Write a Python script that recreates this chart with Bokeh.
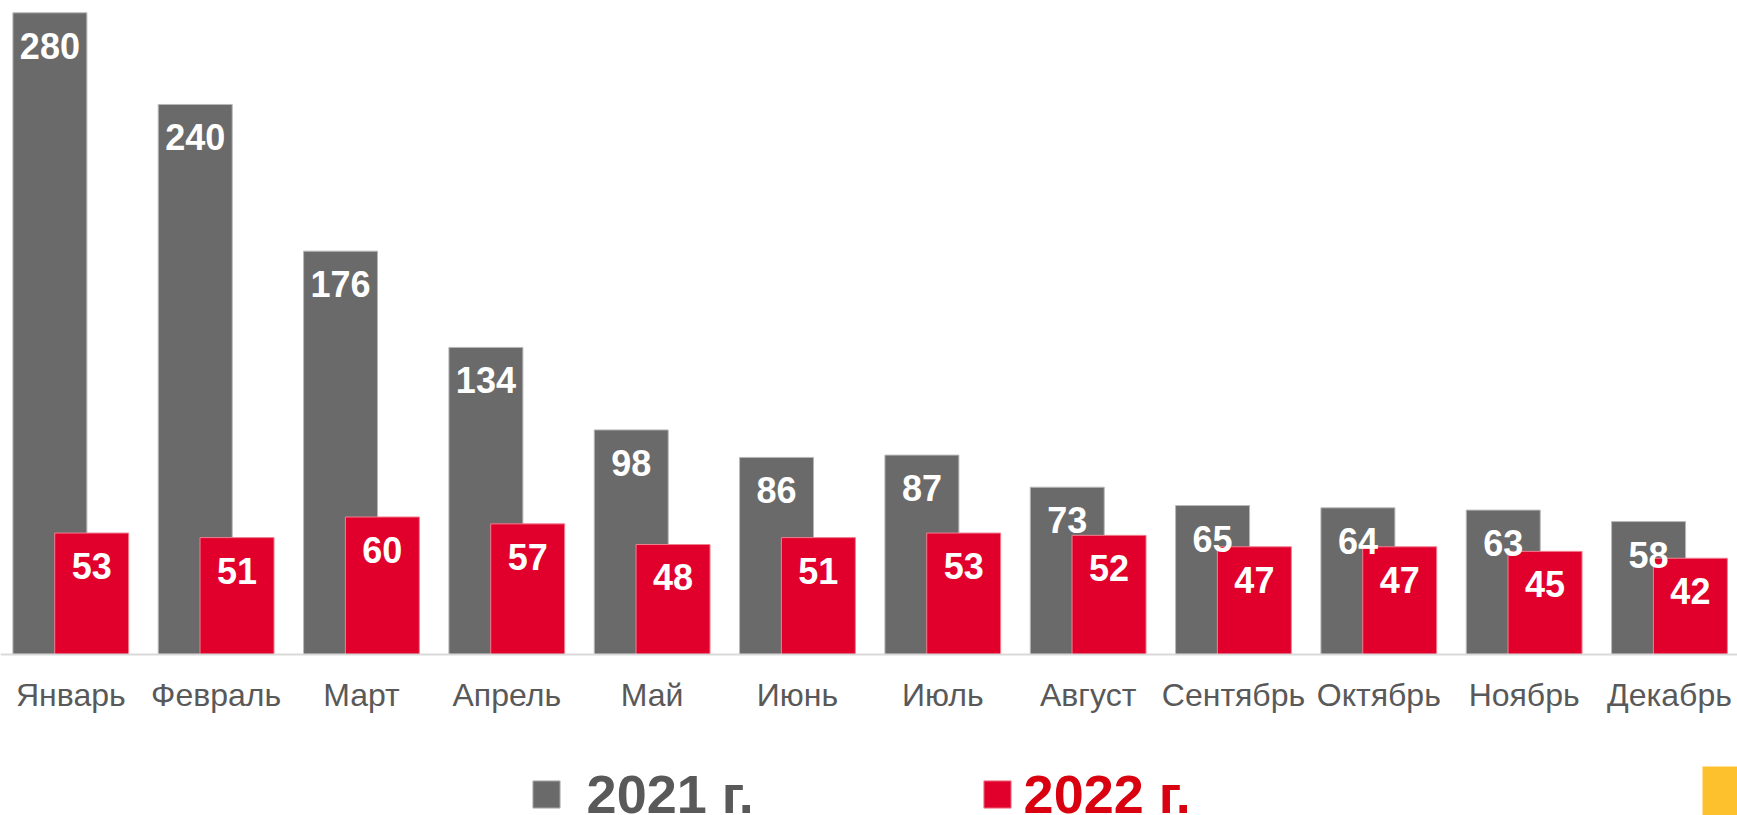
from bokeh.plotting import figure
from bokeh.models import ColumnDataSource, Range1d, FixedTicker, Legend, LegendItem, BoxAnnotation
from bokeh.transform import dodge
from bokeh.core.properties import value
from bokeh.embed import file_html
from bokeh.resources import INLINE

months = ["Январь", "Февраль", "Март", "Апрель", "Май", "Июнь",
          "Июль", "Август", "Сентябрь", "Октябрь", "Ноябрь", "Декабрь"]
v2021 = [280, 240, 176, 134, 98, 86, 87, 73, 65, 64, 63, 58]
v2022 = [53, 51, 60, 57, 48, 51, 53, 52, 47, 47, 45, 42]
series_names = ["2021 г.", "2022 г."]

GRAY = "#6a6a6a"
RED = "#e1002c"

idx = list(range(len(months)))
src = ColumnDataSource(dict(idx=idx, v2021=v2021, v2022=v2022,
                            t2021=[str(v) for v in v2021],
                            t2022=[str(v) for v in v2022]))

p = figure(width=1737, height=815, output_backend="svg", toolbar_location=None,
           x_range=Range1d(-0.4837, 11.468), y_range=Range1d(-70.25, 285.37),
           min_border_left=0, min_border_right=0, min_border_top=0, min_border_bottom=0)
p.outline_line_color = None
p.background_fill_color = "white"
p.border_fill_color = "white"
p.xgrid.visible = False
p.ygrid.visible = False
p.yaxis.visible = False

off = 0.1438
w = 0.509
r1 = p.vbar(x=dodge("idx", -off, range=p.x_range), top="v2021", width=w, bottom=0,
            source=src, fill_color=GRAY, line_color="#b8b8b8", line_width=1)
r2 = p.vbar(x=dodge("idx", off, range=p.x_range), top="v2022", width=w, bottom=0,
            source=src, fill_color=RED, line_color="#f08090", line_width=1)

for col, tcol, o in [("v2021", "t2021", -off), ("v2022", "t2022", off)]:
    p.text(x=dodge("idx", o, range=p.x_range), y=col, text=tcol, source=src,
           text_color="white", text_font=value("Liberation Sans"), text_font_style="bold",
           text_font_size="36px", text_align="center", text_baseline="alphabetic",
           y_offset=33)

ax = p.xaxis[0]
ax.fixed_location = 0
ax.ticker = FixedTicker(ticks=idx)
ax.major_label_overrides = {i: m for i, m in enumerate(months)}
ax.major_tick_line_color = None
ax.minor_tick_line_color = None
ax.major_tick_out = 0
ax.major_tick_in = 0
ax.axis_line_color = "#d9d9d9"
ax.axis_line_width = 2
ax.major_label_text_font = "Liberation Sans"
ax.major_label_text_font_size = "32px"
ax.major_label_text_color = "#595959"
ax.major_label_standoff = 22

leg1 = Legend(items=[LegendItem(label=series_names[0], renderers=[r1])],
              location=(528.6, -10), padding=0, margin=0, border_line_color=None,
              background_fill_alpha=0, glyph_width=34, glyph_height=34,
              label_standoff=24, label_text_font="Liberation Sans",
              label_text_font_style="bold", label_text_font_size="54px",
              label_text_color="#595959")
leg2 = Legend(items=[LegendItem(label=series_names[1], renderers=[r2])],
              location=(979.6, -10), padding=0, margin=0, border_line_color=None,
              background_fill_alpha=0, glyph_width=34, glyph_height=34,
              label_standoff=10, label_text_font="Liberation Sans",
              label_text_font_style="bold", label_text_font_size="54px",
              label_text_color="#d9000f")
p.add_layout(leg1, "center")
p.add_layout(leg2, "center")

deco = BoxAnnotation(left=1702, right=1737, top=49, bottom=0,
                     left_units="screen", right_units="screen",
                     top_units="screen", bottom_units="screen",
                     fill_color="#fec12e", fill_alpha=1, line_color=None)
p.add_layout(deco)

open("out.html", "w").write(file_html(p, INLINE))
